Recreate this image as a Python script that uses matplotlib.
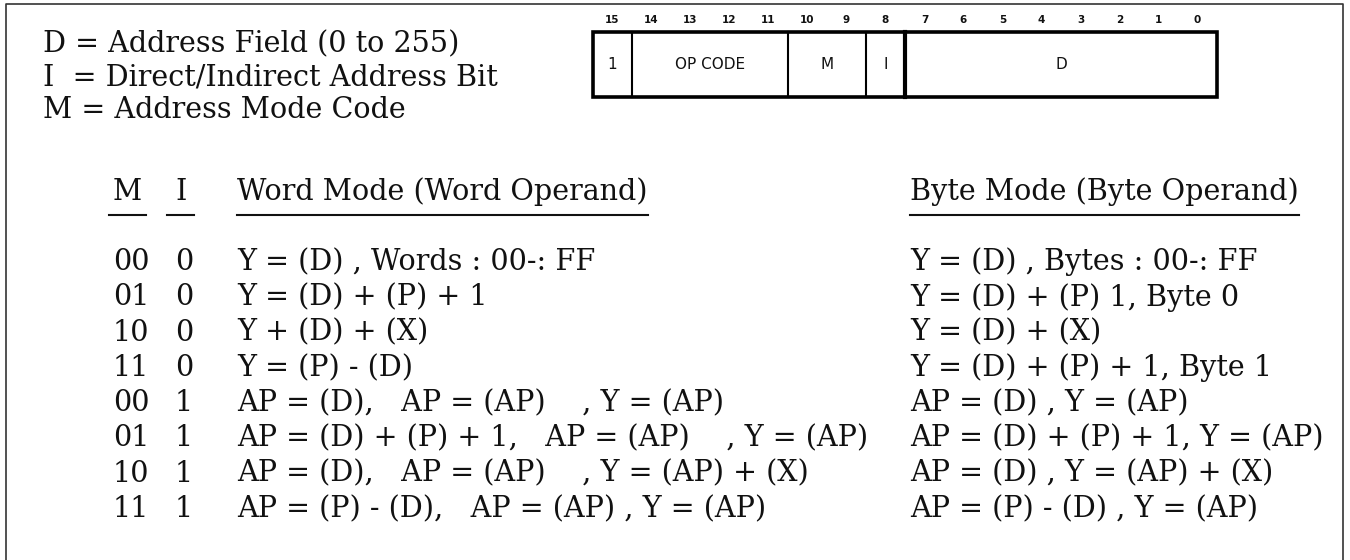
import matplotlib
matplotlib.use('Agg')
import matplotlib.pyplot as plt
import matplotlib.patches as patches

# Text content
legend_lines = ['D = Address Field (0 to 255)',
                'I  = Direct/Indirect Address Bit',
                'M = Address Mode Code']
bit_labels = [str(b) for b in range(15, -1, -1)]
fields = ['1', 'OP CODE', 'M', 'I', 'D']
field_bits = [1, 4, 2, 1, 8]

headers = ['M', 'I', 'Word Mode (Word Operand)', 'Byte Mode (Byte Operand)']
m_codes = ['00', '01', '10', '11', '00', '01', '10', '11']
i_bits = ['0', '0', '0', '0', '1', '1', '1', '1']
word_mode = ['Y = (D) , Words : 00-: FF',
             'Y = (D) + (P) + 1',
             'Y + (D) + (X)',
             'Y = (P) - (D)',
             'AP = (D),   AP = (AP)    , Y = (AP)',
             'AP = (D) + (P) + 1,   AP = (AP)    , Y = (AP)',
             'AP = (D),   AP = (AP)    , Y = (AP) + (X)',
             'AP = (P) - (D),   AP = (AP) , Y = (AP)']
byte_mode = ['Y = (D) , Bytes : 00-: FF',
             'Y = (D) + (P) 1, Byte 0',
             'Y = (D) + (X)',
             'Y = (D) + (P) + 1, Byte 1',
             'AP = (D) , Y = (AP)',
             'AP = (D) + (P) + 1, Y = (AP)',
             'AP = (D) , Y = (AP) + (X)',
             'AP = (P) - (D) , Y = (AP)']

# Layout (pixel space, y down)
W, H = 1350, 560
serif = 'DejaVu Serif'
fs = 20.6
ink = '#111111'
box_l, box_r, box_t, box_b = 593, 1217, 32, 97
col_m, col_i, col_word, col_byte = 113, 175, 237, 910
head_y, under_y = 192, 215
row_y0, row_dy = 262, 35.3

fig = plt.figure(figsize=(13.5, 5.6), dpi=100)
ax = fig.add_axes([0, 0, 1, 1])
ax.set_xlim(0, W)
ax.set_ylim(H, 0)
ax.axis('off')

# outer frame (open at the bottom)
ax.plot([6, 6, 1343, 1343], [H, 4, 4, H], color='#333333', lw=1.2)

# legend
for k, line in enumerate(legend_lines):
    ax.text(43, 44 + 33*k, line, family=serif, fontsize=fs, va='center', color=ink)

# instruction word layout
bw = (box_r - box_l) / 16
for k, lab in enumerate(bit_labels):
    ax.text(box_l + (k + 0.5)*bw, 20, lab, fontsize=7.5, fontweight='bold',
            ha='center', va='center', family='DejaVu Sans', color=ink)
x = box_l
for k, (name, nb) in enumerate(zip(fields, field_bits)):
    x2 = x + nb*bw
    ax.text((x + x2)/2, (box_t + box_b)/2, name, fontsize=11, ha='center',
            va='center', family='DejaVu Sans', color=ink)
    if k < len(fields) - 1:
        thick = 3.0 if name == 'I' else 1.5
        ax.plot([x2, x2], [box_t, box_b], color='black', lw=thick)
    x = x2
ax.add_patch(patches.Rectangle((box_l, box_t), box_r - box_l, box_b - box_t,
                               fill=False, lw=2.6, ec='black'))

# column headers with underlines
head_x = [col_m, col_i, col_word, col_byte]
head_pad = [4, 8, 0, 0]
htexts = [ax.text(hx, head_y, h, family=serif, fontsize=fs, va='center', color=ink)
          for hx, h in zip(head_x, headers)]
fig.canvas.draw()
r = fig.canvas.get_renderer()
inv = ax.transData.inverted()
for t, pad in zip(htexts, head_pad):
    bb = t.get_window_extent(r)
    x0, _ = inv.transform((bb.x0, bb.y0))
    x1, _ = inv.transform((bb.x1, bb.y0))
    ax.plot([x0 - pad, x1 + pad], [under_y, under_y], color=ink, lw=1.5)

# table rows
for k in range(len(m_codes)):
    y = row_y0 + k*row_dy
    ax.text(col_m, y, m_codes[k], family=serif, fontsize=fs, va='center', color=ink)
    ax.text(col_i, y, i_bits[k], family=serif, fontsize=fs, va='center', color=ink)
    ax.text(col_word, y, word_mode[k], family=serif, fontsize=fs, va='center', color=ink)
    ax.text(col_byte, y, byte_mode[k], family=serif, fontsize=fs, va='center', color=ink)

fig.savefig('out.png', dpi=100, facecolor='white')
